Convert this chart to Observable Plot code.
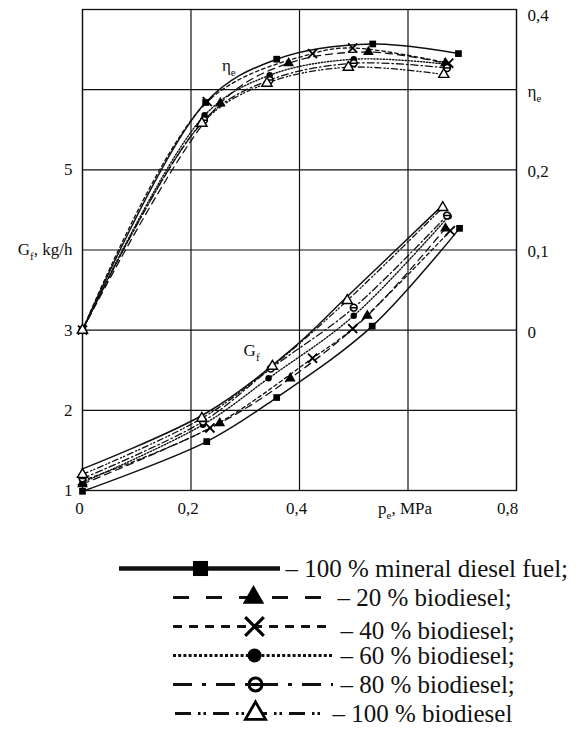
<!DOCTYPE html>
<html><head><meta charset="utf-8">
<script src="https://cdn.jsdelivr.net/npm/d3@7"></script>
<script src="https://cdn.jsdelivr.net/npm/@observablehq/plot@0.6"></script>
<style>
html,body{margin:0;padding:0;background:#fff;}
#chart svg{display:block;}
#chart svg text, #chart svg tspan{font-family:'Liberation Serif','Times New Roman',Times,serif;}
</style></head><body><div id="chart"></div>
<script>
// ---------- axis ticks ----------
const xTicks = [0, 0.2, 0.4, 0.6, 0.8];
const xTickLabels = ["0", "0,2", "0,4", "p_e, MPa", "0,8"];
const gfGrid = [1, 2, 3, 4, 5, 6, 7];
const gfTicks = [1, 2, 3, 4, 5];
const gfTickLabels = ["1", "2", "3", "G_f, kg/h", "5"];
const etaTicks = [0, 0.1, 0.2, 0.3, 0.4];
const etaTickLabels = ["0", "0,1", "0,2", "η_e", "0,4"];

// ---------- series ----------
const seriesKeys = ["mineral", "b20", "b40", "b60", "b80", "b100"];
const legendLabels = [
  "– 100 % mineral diesel fuel;",
  "– 20 % biodiesel;",
  "– 40 % biodiesel;",
  "– 60 % biodiesel;",
  "– 80 % biodiesel;",
  "– 100 % biodiesel"
];

// effective efficiency eta_e vs p_e
const etaPe_mineral = [0, 0.227, 0.358, 0.535, 0.693];
const eta_mineral   = [0, 0.284, 0.338, 0.357, 0.345];
const etaPe_b20 = [0, 0.254, 0.380, 0.527, 0.669];
const eta_b20   = [0, 0.283, 0.333, 0.347, 0.333];
const etaPe_b40 = [0, 0.230, 0.424, 0.498, 0.675];
const eta_b40   = [0, 0.285, 0.345, 0.352, 0.333];
const etaPe_b60 = [0, 0.225, 0.345, 0.500, 0.668];
const eta_b60   = [0, 0.268, 0.318, 0.338, 0.332];
const etaPe_b80 = [0, 0.224, 0.345, 0.500, 0.672];
const eta_b80   = [0, 0.262, 0.312, 0.333, 0.327];
const etaPe_b100 = [0, 0.220, 0.340, 0.490, 0.666];
const eta_b100   = [0, 0.258, 0.308, 0.328, 0.319];

// fuel consumption G_f vs p_e
const gfPe_mineral = [0, 0.229, 0.358, 0.534, 0.695];
const gf_mineral   = [0.99, 1.61, 2.16, 3.05, 4.27];
const gfPe_b20 = [0, 0.253, 0.383, 0.525, 0.669];
const gf_b20   = [1.08, 1.84, 2.40, 3.18, 4.27];
const gfPe_b40 = [0, 0.235, 0.424, 0.498, 0.678];
const gf_b40   = [1.12, 1.78, 2.65, 3.02, 4.24];
const gfPe_b60 = [0, 0.222, 0.343, 0.500, 0.675];
const gf_b60   = [1.10, 1.82, 2.40, 3.18, 4.42];
const gfPe_b80 = [0, 0.222, 0.347, 0.500, 0.672];
const gf_b80   = [1.15, 1.86, 2.52, 3.28, 4.43];
const gfPe_b100 = [0, 0.220, 0.350, 0.488, 0.664];
const gf_b100   = [1.20, 1.90, 2.55, 3.37, 4.53];

// upper bound of the G_f band
const gfEnvPe = [0, 0.229, 0.387, 0.488, 0.664];
const gfEnv   = [1.27, 1.97, 2.77, 3.42, 4.56];

// in-chart curve labels
const labelEta = {x: 0.257, eta: 0.33, text: "η_e"};
const labelGf = {x: 0.297, gf: 2.75, text: "G_f"};

// ---------- styles ----------
const thetaSymbol = {
  draw(ctx, size) {
    const r = Math.sqrt(size / Math.PI);
    ctx.moveTo(r, 0);
    ctx.arc(0, 0, r, 0, 2 * Math.PI);
    ctx.moveTo(-r, 0);
    ctx.lineTo(r, 0);
  }
};
const styles = {
  mineral: {dash: null, lw: 1.5, symbol: "square", fill: "black", stroke: "none", r: 3.8,
            lgDash: null, lgW: 4.5, lgX1: 119, lgX2: 280, lgM: 200, lgR: 8.5, lgT: 285, lgDy: 0},
  b20: {dash: "7,5", lw: 1.3, symbol: "triangle", fill: "black", stroke: "none", r: 4.0,
        lgDash: "16,17", lgW: 3.2, lgX1: 173, lgX2: 333, lgM: 253, lgR: 8, lgT: 337, lgDy: 0},
  b40: {dash: "3.5,3", lw: 1.3, symbol: "times", fill: "none", stroke: "black", r: 4.2, sw: 1.8,
        lgDash: "9,7", lgW: 3.2, lgX1: 173, lgX2: 333, lgM: 254, lgR: 8.5, lgSw: 3.2, lgT: 340, lgDy: 4},
  b60: {dash: "1.3,1.8", lw: 1.4, symbol: "circle", fill: "black", stroke: "none", r: 3.2,
        lgDash: "3,2.2", lgW: 3.2, lgX1: 173, lgX2: 333, lgM: 254, lgR: 7, lgT: 340, lgDy: 0},
  b80: {dash: "7,3,1.5,3", lw: 1.3, symbol: thetaSymbol, fill: "white", stroke: "black", r: 3.4, sw: 1.5,
        lgDash: "19,10,4,10", lgW: 3.2, lgX1: 173, lgX2: 333, lgM: 255, lgR: 6.5, lgSw: 3, lgT: 340, lgDy: 0},
  b100: {dash: "6,3,1.2,2,1.2,3", lw: 1.3, symbol: "triangle", fill: "white", stroke: "black", r: 3.8, sw: 1.4,
         lgDash: "16,7,2.5,3,2.5,7", lgW: 3.2, lgX1: 175, lgX2: 325, lgM: 255, lgR: 7.5, lgSw: 2.8, lgT: 332, lgDy: 0}
};

const etaPeArr = {mineral: etaPe_mineral, b20: etaPe_b20, b40: etaPe_b40, b60: etaPe_b60, b80: etaPe_b80, b100: etaPe_b100};
const etaArr = {mineral: eta_mineral, b20: eta_b20, b40: eta_b40, b60: eta_b60, b80: eta_b80, b100: eta_b100};
const gfPeArr = {mineral: gfPe_mineral, b20: gfPe_b20, b40: gfPe_b40, b60: gfPe_b60, b80: gfPe_b80, b100: gfPe_b100};
const gfArr = {mineral: gf_mineral, b20: gf_b20, b40: gf_b40, b60: gf_b60, b80: gf_b80, b100: gf_b100};

// the right axis (eta_e) shares the left axis: eta_e 0 ↔ G_f 3, 0.1 per kg/h unit
const etaToY = e => 3 + 10 * e;

const font = "'Liberation Serif', 'Times New Roman', Times, serif";
const ink = "#111";

const marks = [
  Plot.ruleX(xTicks, {stroke: ink, strokeWidth: 1.2}),
  Plot.ruleY(gfGrid, {stroke: ink, strokeWidth: 1.2}),
  Plot.frame({stroke: ink, strokeWidth: 1.3})
];

// G_f band upper bound
marks.push(Plot.line(gfEnvPe.map((x, i) => ({x, y: gfEnv[i]})),
  {x: "x", y: "y", curve: "catmull-rom", stroke: ink, strokeWidth: 1.5}));

seriesKeys.forEach(k => {
  const s = styles[k];
  const etaData = etaPeArr[k].map((x, i) => ({x, y: etaToY(etaArr[k][i])}));
  const gfData = gfPeArr[k].map((x, i) => ({x, y: gfArr[k][i]}));
  for (const data of [etaData, gfData]) {
    marks.push(Plot.line(data, {x: "x", y: "y", curve: "catmull-rom", stroke: ink,
      strokeWidth: s.lw, strokeDasharray: s.dash || undefined}));
  }
});
seriesKeys.forEach(k => {
  const s = styles[k];
  const etaData = etaPeArr[k].map((x, i) => ({x, y: etaToY(etaArr[k][i])}));
  const gfData = gfPeArr[k].map((x, i) => ({x, y: gfArr[k][i]}));
  for (const data of [etaData, gfData]) {
    marks.push(Plot.dot(data, {x: "x", y: "y", symbol: s.symbol, r: s.r, fill: s.fill,
      stroke: s.stroke, strokeWidth: s.sw || 1}));
  }
});

// axis labels
const tx = {fontSize: 17, fontFamily: font, fill: ink};
marks.push(
  Plot.text(gfTicks, {...tx, y: d => d, frameAnchor: "left", textAnchor: "end", dx: -10,
    text: (d, i) => gfTickLabels[i]}),
  Plot.text(etaTicks.slice(0, 4), {...tx, y: d => etaToY(d), frameAnchor: "right", textAnchor: "start", dx: 11, dy: 2,
    text: (d, i) => etaTickLabels[i]}),
  Plot.text(etaTicks.slice(4), {...tx, y: d => etaToY(d), frameAnchor: "right", textAnchor: "start", dx: 11, dy: 6,
    text: (d, i) => etaTickLabels[4 + i]}),
  Plot.text(xTicks.slice(0, 4), {...tx, x: d => d, frameAnchor: "bottom", dy: 23, dx: -3,
    text: (d, i) => xTickLabels[i]}),
  Plot.text(xTicks.slice(4), {...tx, x: d => d, frameAnchor: "bottom", dy: 23, dx: -9,
    text: (d, i) => xTickLabels[4 + i]}),
  Plot.text([labelEta], {...tx, x: "x", y: d => etaToY(d.eta), text: "text", textAnchor: "start"}),
  Plot.text([labelGf], {...tx, x: "x", y: "gf", text: "text", textAnchor: "start"})
);

const chart = Plot.plot({
  width: 578, height: 527,
  marginLeft: 82, marginRight: 62, marginTop: 9, marginBottom: 37,
  x: {domain: [0, 0.8], axis: null},
  y: {domain: [1, 7], axis: null},
  style: {fontFamily: font, fontSize: "17px", background: "white", overflow: "visible", color: ink},
  marks
});

// legend
const legendMarks = [];
seriesKeys.forEach((k, i) => {
  const s = styles[k];
  legendMarks.push(
    Plot.ruleY([k], {y: d => d, x1: s.lgX1, x2: s.lgX2, stroke: ink, strokeWidth: s.lgW,
      strokeDasharray: s.lgDash || undefined}),
    Plot.dot([k], {x: s.lgM, y: d => d, symbol: s.symbol, r: s.lgR, fill: s.fill,
      stroke: s.stroke, strokeWidth: s.lgSw || 1}),
    Plot.text([k], {x: s.lgT, y: d => d, dy: s.lgDy, text: () => legendLabels[i], textAnchor: "start",
      fontSize: 25, fontFamily: font, fill: ink})
  );
});
const legend = Plot.plot({
  width: 578, height: 210,
  margin: 0,
  x: {domain: [0, 578], range: [0, 578], axis: null},
  y: {type: "point", domain: seriesKeys, range: [39, 187], padding: 0, axis: null},
  style: {fontFamily: font, fontSize: "25px", background: "white", overflow: "visible"},
  marks: legendMarks
});

// turn "X_y..." into subscript tspans
function subscriptify(svg) {
  const ns = "http://www.w3.org/2000/svg";
  svg.querySelectorAll("text").forEach(t => {
    const s = t.textContent;
    const i = s.indexOf("_");
    if (i < 0 || t.querySelector("tspan")) return;
    t.textContent = "";
    const a = document.createElementNS(ns, "tspan"); a.textContent = s.slice(0, i);
    const b = document.createElementNS(ns, "tspan"); b.textContent = s[i + 1];
    b.setAttribute("font-size", "11"); b.setAttribute("dy", "5");
    t.append(a, b);
    if (s.length > i + 2) {
      const c = document.createElementNS(ns, "tspan"); c.textContent = s.slice(i + 2);
      c.setAttribute("dy", "-5");
      t.append(c);
    }
  });
}
subscriptify(chart);

document.getElementById("chart").append(chart, legend);
</script>
</body></html>
